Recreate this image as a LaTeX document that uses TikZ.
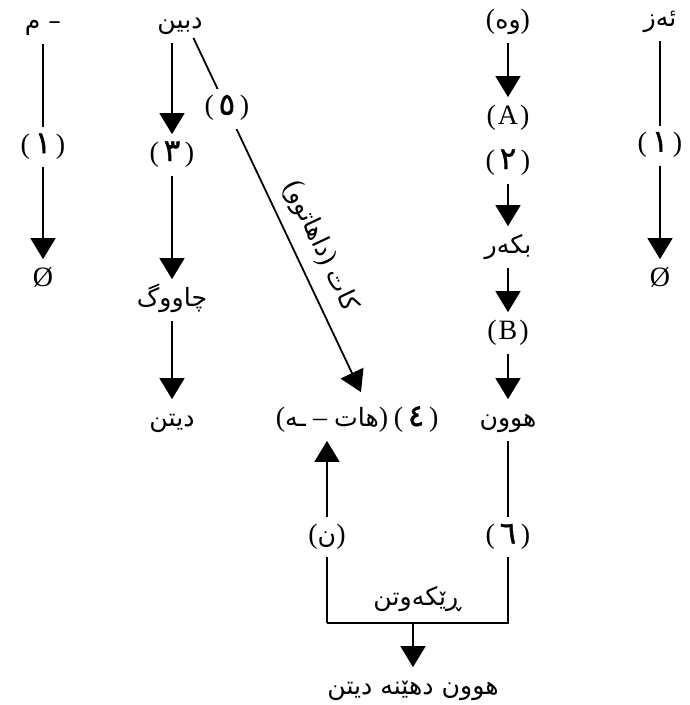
\documentclass[tikz,border=0pt]{standalone}
\usepackage{fontspec}
\setmainfont{Liberation Serif}
\newfontfamily\arabicfont[Script=Arabic,Scale=0.9]{DejaVu Sans}
\newfontfamily\digitfont[Script=Arabic,Scale=1.1,FakeBold=1.2]{DejaVu Sans}
\TeXXeTstate=1
\usetikzlibrary{arrows.meta}

\newcommand{\ku}[1]{{\arabicfont\beginR #1\endR}}
\newcommand{\nlab}[1]{(\,{\digitfont #1}\,)}

\begin{document}
\begin{tikzpicture}[x=1pt, y=-1pt, line width=1.8pt,
  every node/.style={inner xsep=2pt, inner ysep=7pt, text height=19pt, text depth=7pt,
    font=\fontsize{28}{32}\selectfont},
  lbl/.style={fill=white},
  arr/.style={-{Triangle[length=21pt,width=25pt]}}]
\useasboundingbox (0,0) rectangle (690,705);
% top row
\node (m)    at (43,23)  {\ku{– م}};
\node (dbin) at (180,22) {\ku{دبین}};
\node (wa)   at (508,22) {(\ku{وه})};
\node (az)   at (660,20) {\ku{ئەز}};
% left and right ends
\node (o1) at (43,280)  {Ø};
\node (o5) at (660,280) {Ø};
\draw[arr] (m) -- node[lbl,pos=0.48]{\nlab{١}} (o1);
\draw[arr] (az) -- node[lbl,pos=0.48]{\nlab{١}} (o5);
% infinitive column
\node (n3)   at (172,155) {\nlab{٣}};
\node (chw)  at (172,300) {\ku{چاووگ}};
\node (ditn) at (172,420) {\ku{دیتن}};
\draw[arr] (n3 |- dbin.south) -- (n3);
\draw[arr] (n3) -- (chw);
\draw[arr] (chw) -- (ditn);
% agent column
\node (nA)  at (508,118) {(\kern2pt A\kern2pt)};
\node (n2)  at (508,163) {\nlab{٢}};
\node (bkr) at (508,247) {\ku{بکەر}};
\node (nB)  at (508,333) {(\kern2pt B\kern2pt)};
\node (hwn) at (508,420) {\ku{هوون}};
\draw[arr] (wa) -- (nA);
\draw[arr] (n2) -- (bkr);
\draw[arr] (bkr) -- (nB);
\draw[arr] (nB) -- (hwn);
% verb stem
\node (hat) at (332,420) {(\ku{ـه} – \ku{هات})};
\node[anchor=west] (n4) at (hat.east) {\nlab{٤}};
\draw[arr] ([xshift=-12pt,yshift=5pt]dbin.south east) -- node[lbl,pos=0.2]{\nlab{٥}}
  node[sloped,above=4pt,pos=0.62]{(\ku{داهاتوو}) \ku{کات}} ([xshift=29pt,yshift=7pt]hat.north);
% agreement
\coordinate (cr) at (508,623);
\coordinate (cl) at (327,623);
\node (res) at (413,688) {\ku{هوون دهێنه دیتن}};
\draw (hwn) -- node[lbl,pos=0.53]{\nlab{٦}} (cr) -- node[above=3pt]{\ku{ڕێکەوتن}} (cl);
\draw[arr] (cl) -- node[lbl,pos=0.47]{(\ku{ن})} (cl |- hat.south);
\draw[arr] (cl -| res) -- (res);
\end{tikzpicture}
\end{document}
